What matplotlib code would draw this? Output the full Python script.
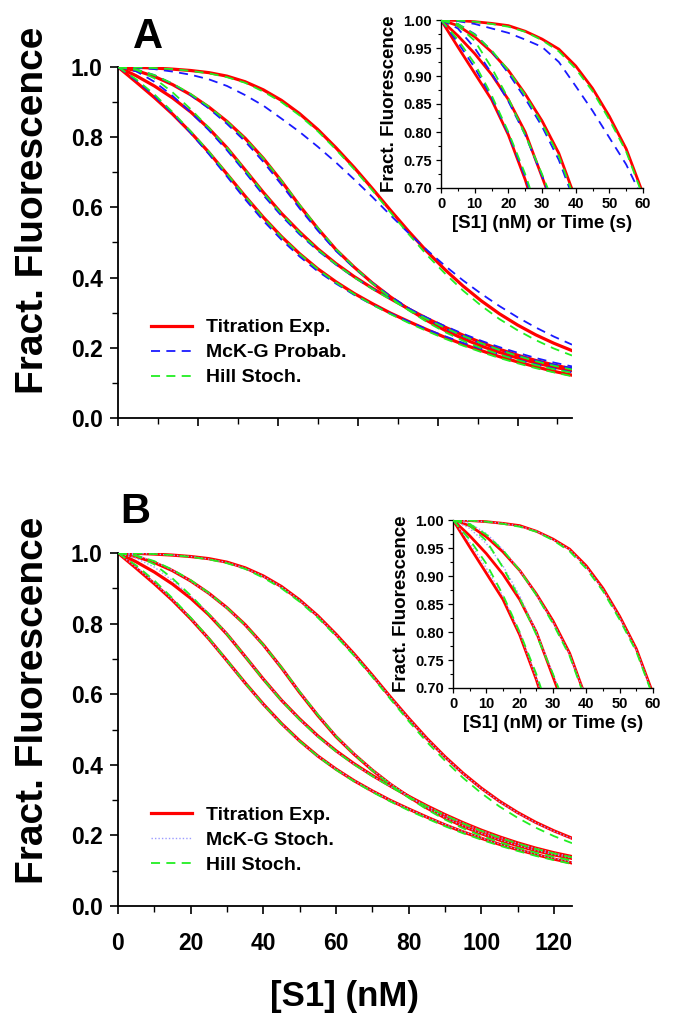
import matplotlib
matplotlib.use("Agg")
import matplotlib.pyplot as plt
from matplotlib.ticker import MultipleLocator, FormatStrFormatter

plt.rcParams['font.family'] = ['Liberation Sans', 'DejaVu Sans']
plt.rcParams['font.weight'] = 'bold'

# ---------------- data: main panels ([S1] in nM) ----------------
x_main = [0, 5, 10, 15, 20, 25, 30, 35, 40, 45, 50, 55, 60, 65, 70, 75, 80, 85, 90, 95,
          100, 105, 110, 115, 120, 125]

titr1 = [1.0, .957, .913, .866, .814, .757, .695, .632, .572, .517, .468, .425, .388, .355,
         .326, .299, .275, .252, .23, .21, .192, .175, .16, .146, .133, .122]
titr2 = [1.0, .975, .946, .912, .872, .825, .77, .707, .643, .583, .53, .482, .44, .403,
         .37, .34, .311, .284, .259, .236, .215, .196, .179, .164, .151, .14]
titr3 = [1.0, .99, .973, .95, .921, .886, .845, .797, .74, .675, .605, .54, .48, .43,
         .385, .345, .31, .278, .25, .226, .205, .187, .171, .157, .145, .135]
titr4 = [1.0, .999, .997, .994, .99, .984, .974, .958, .935, .905, .867, .822, .77, .714,
         .654, .592, .532, .475, .423, .376, .334, .297, .265, .237, .213, .192]

mckp1 = [1.0, .962, .918, .868, .812, .752, .688, .623, .562, .508, .46, .418, .383, .351,
         .323, .298, .275, .253, .233, .214, .197, .181, .166, .153, .141, .13]
mckp2 = [1.0, .988, .958, .918, .871, .82, .763, .70, .635, .576, .523, .477, .437, .401,
         .369, .34, .312, .286, .262, .24, .22, .202, .186, .171, .158, .147]
mckp3 = [1.0, .993, .977, .952, .92, .882, .838, .788, .73, .665, .597, .534, .476, .428,
         .385, .347, .313, .283, .256, .233, .212, .194, .178, .164, .152, .142]
mckp4 = [1.0, .998, .994, .987, .978, .965, .946, .92, .89, .853, .815, .773, .728, .68,
         .63, .578, .527, .479, .434, .392, .354, .319, .287, .258, .232, .209]

hill1 = [1.0, .965, .922, .872, .817, .759, .696, .632, .571, .516, .467, .424, .386, .353,
         .323, .296, .271, .248, .226, .206, .188, .171, .156, .142, .13, .119]
hill2 = [1.0, .992, .968, .928, .88, .827, .77, .707, .642, .582, .528, .48, .438, .401,
         .368, .338, .309, .282, .257, .234, .213, .194, .177, .162, .149, .138]
hill3 = [1.0, .993, .977, .953, .923, .887, .845, .796, .74, .676, .607, .542, .481, .43,
         .384, .343, .307, .274, .245, .22, .199, .181, .165, .151, .139, .129]
hill4 = [1.0, .999, .997, .994, .989, .982, .971, .955, .93, .9, .862, .817, .765, .709,
         .649, .586, .524, .465, .412, .363, .32, .282, .25, .222, .198, .178]

mcks1 = [1.0, .96, .916, .868, .815, .757, .694, .631, .571, .516, .467, .425, .388, .355,
         .326, .299, .275, .252, .231, .211, .193, .176, .161, .147, .135, .124]
mcks2 = [1.0, .985, .96, .922, .878, .828, .771, .707, .643, .583, .529, .481, .439, .402,
         .369, .339, .31, .283, .258, .235, .214, .195, .178, .163, .15, .139]
mcks3 = [1.0, .994, .976, .951, .921, .885, .844, .796, .739, .675, .606, .541, .481, .431,
         .386, .346, .311, .279, .251, .227, .206, .188, .172, .158, .146, .136]
mcks4 = [1.0, .999, .997, .994, .99, .983, .973, .957, .934, .904, .866, .821, .769, .713,
         .653, .591, .531, .474, .422, .375, .333, .296, .264, .236, .212, .191]

# ---------------- data: insets ([S1] (nM) or Time (s)) ----------------
x_in = [0, 5, 10, 15, 20, 25, 30, 35, 40, 45, 50, 55, 60]

in_titr1 = [1.0, 0.952, 0.905, 0.858, 0.795, 0.715, 0.62]
in_titr2 = [1.0, 0.972, 0.94, 0.903, 0.858, 0.80, 0.72, 0.64]
in_titr3 = [1.0, 0.99, 0.97, 0.943, 0.91, 0.868, 0.82, 0.762, 0.68]
in_titr4 = [1.0, 0.999, 0.997, 0.994, 0.99, 0.98, 0.966, 0.948, 0.918, 0.878, 0.828, 0.77, 0.69]

in_mckp1 = [1.0, 0.96, 0.915, 0.862, 0.797, 0.72, 0.63]
in_mckp2 = [1.0, 0.985, 0.95, 0.905, 0.855, 0.795, 0.722, 0.64]
in_mckp3 = [1.0, 0.993, 0.975, 0.945, 0.905, 0.86, 0.81, 0.75, 0.67]
in_mckp4 = [1.0, 0.998, 0.993, 0.985, 0.977, 0.965, 0.952, 0.925, 0.882, 0.838, 0.79, 0.742, 0.68]

in_hill1 = [1.0, 0.965, 0.922, 0.866, 0.80, 0.725, 0.635]
in_hill2 = [1.0, 0.99, 0.963, 0.915, 0.86, 0.795, 0.725, 0.65]
in_hill3 = [1.0, 0.993, 0.974, 0.946, 0.91, 0.866, 0.815, 0.757, 0.675]
in_hill4 = [1.0, 0.999, 0.997, 0.993, 0.988, 0.979, 0.964, 0.944, 0.913, 0.873, 0.822, 0.765, 0.685]

in_mcks1 = [1.0, 0.96, 0.914, 0.864, 0.798, 0.718, 0.628]
in_mcks2 = [1.0, 0.985, 0.958, 0.918, 0.865, 0.80, 0.725, 0.645]
in_mcks3 = [1.0, 0.994, 0.976, 0.947, 0.91, 0.867, 0.818, 0.76, 0.68]
in_mcks4 = [1.0, 0.999, 0.997, 0.994, 0.989, 0.98, 0.965, 0.947, 0.916, 0.876, 0.826, 0.768, 0.688]

legend_A = ["Titration Exp.", "McK-G Probab.", "Hill Stoch."]
legend_B = ["Titration Exp.", "McK-G Stoch.", "Hill Stoch."]

RED = '#ff0000'
BLUE = '#1a1aff'
GREEN = '#22ee22'
LAV = '#9b9bff'

W, H = 679, 1028
fig = plt.figure(figsize=(W / 100, H / 100), dpi=100)


def fax(l, t, r, b):
    return fig.add_axes([l / W, 1 - b / H, (r - l) / W, (b - t) / H])


def style(ax, lw=1.2):
    for s in ('top', 'right'):
        ax.spines[s].set_visible(False)
    for s in ('left', 'bottom'):
        ax.spines[s].set_linewidth(lw)


def main_panel(ax, model_sets, labels, show_xlabels):
    style(ax, 1.3)
    h_red = None
    for r in [titr1, titr2, titr3, titr4]:
        h_red, = ax.plot(x_main, r, color=RED, lw=2.3, zorder=2)
    handles = [h_red]
    for ys_list, kw in model_sets:
        h = None
        for ys in ys_list:
            h, = ax.plot(x_main, ys, **kw)
        handles.append(h)
    ax.set_xlim(0, 125)
    ax.set_ylim(0, 1.0)
    ax.yaxis.set_major_locator(MultipleLocator(0.2))
    ax.yaxis.set_minor_locator(MultipleLocator(0.1))
    ax.yaxis.set_major_formatter(FormatStrFormatter('%.1f'))
    if show_xlabels:
        ax.xaxis.set_major_locator(MultipleLocator(20))
        ax.xaxis.set_minor_locator(MultipleLocator(10))
    else:
        ax.xaxis.set_major_locator(MultipleLocator(22))
        ax.xaxis.set_minor_locator(MultipleLocator(11))
        ax.tick_params(axis='x', which='both', labelbottom=False)
    ax.tick_params(which='major', direction='out', length=6, width=1.2, labelsize=16.5, pad=5)
    ax.tick_params(axis='x', which='major', pad=12.5)
    ax.tick_params(which='minor', direction='out', length=4, width=1.0)
    for lab in ax.get_xticklabels() + ax.get_yticklabels():
        lab.set_fontweight('bold')
    ax.set_ylabel('Fract. Fluorescence', fontsize=28, fontweight='bold')
    leg = ax.legend(handles, labels, frameon=False, fontsize=14, handlelength=2.1,
                    handletextpad=0.75, labelspacing=0.38, borderaxespad=0,
                    loc='upper left', bbox_to_anchor=(0.055, 0.305))
    for t in leg.get_texts():
        t.set_fontweight('bold')
    return ax


def inset_panel(ax, model_sets):
    style(ax, 1.0)
    for r in [in_titr1, in_titr2, in_titr3, in_titr4]:
        ax.plot(x_in[:len(r)], r, color=RED, lw=2.0, zorder=2)
    for ys_list, kw in model_sets:
        for ys in ys_list:
            ax.plot(x_in[:len(ys)], ys, **kw)
    ax.set_xlim(0, 60)
    ax.set_ylim(0.70, 1.00)
    ax.xaxis.set_major_locator(MultipleLocator(10))
    ax.xaxis.set_minor_locator(MultipleLocator(5))
    ax.yaxis.set_major_locator(MultipleLocator(0.05))
    ax.yaxis.set_minor_locator(MultipleLocator(0.025))
    ax.yaxis.set_major_formatter(FormatStrFormatter('%.2f'))
    ax.tick_params(which='major', direction='out', length=3.5, width=0.9, labelsize=10.5, pad=3)
    ax.tick_params(which='minor', direction='out', length=2, width=0.8)
    for lab in ax.get_xticklabels() + ax.get_yticklabels():
        lab.set_fontweight('bold')
    ax.set_ylabel('Fract. Fluorescence', fontsize=13.5, fontweight='bold', labelpad=4)
    ax.set_xlabel('[S1] (nM) or Time (s)', fontsize=13.5, fontweight='bold', labelpad=3)


blue_kw = dict(color=BLUE, lw=1.3, ls=(0, (5, 3.5)), zorder=3)
green_kw = dict(color=GREEN, lw=1.3, ls=(0, (5, 3.5)), zorder=4)
lav_kw = dict(color=LAV, lw=1.0, ls=(0, (1, 1.5)), zorder=3)

# ---------------- Panel A ----------------
axA = fax(118, 67, 572, 418)
main_panel(axA, [([mckp1, mckp2, mckp3, mckp4], blue_kw),
                 ([hill1, hill2, hill3, hill4], green_kw)], legend_A, False)
axA.yaxis.set_label_coords(-0.148, 0.593)
fig.text(133 / W, 1 - 48 / H, 'A', fontsize=30, fontweight='bold', va='baseline')

insA = fax(441, 20, 643, 188)
inset_panel(insA, [([in_mckp1, in_mckp2, in_mckp3, in_mckp4], blue_kw),
                   ([in_hill1, in_hill2, in_hill3, in_hill4], green_kw)])

# ---------------- Panel B ----------------
axB = fax(118, 553, 572, 906)
main_panel(axB, [([mcks1, mcks2, mcks3, mcks4], lav_kw),
                 ([hill1, hill2, hill3, hill4], green_kw)], legend_B, True)
axB.yaxis.set_label_coords(-0.148, 0.584)
axB.set_xlabel('[S1] (nM)', fontsize=25, fontweight='bold', labelpad=18)
fig.text(120 / W, 1 - 523 / H, 'B', fontsize=30, fontweight='bold', va='baseline')

insB = fax(453, 520, 653, 688)
inset_panel(insB, [([in_mcks1, in_mcks2, in_mcks3, in_mcks4], lav_kw),
                   ([in_hill1, in_hill2, in_hill3, in_hill4], green_kw)])

fig.savefig('out.png', dpi=100)
